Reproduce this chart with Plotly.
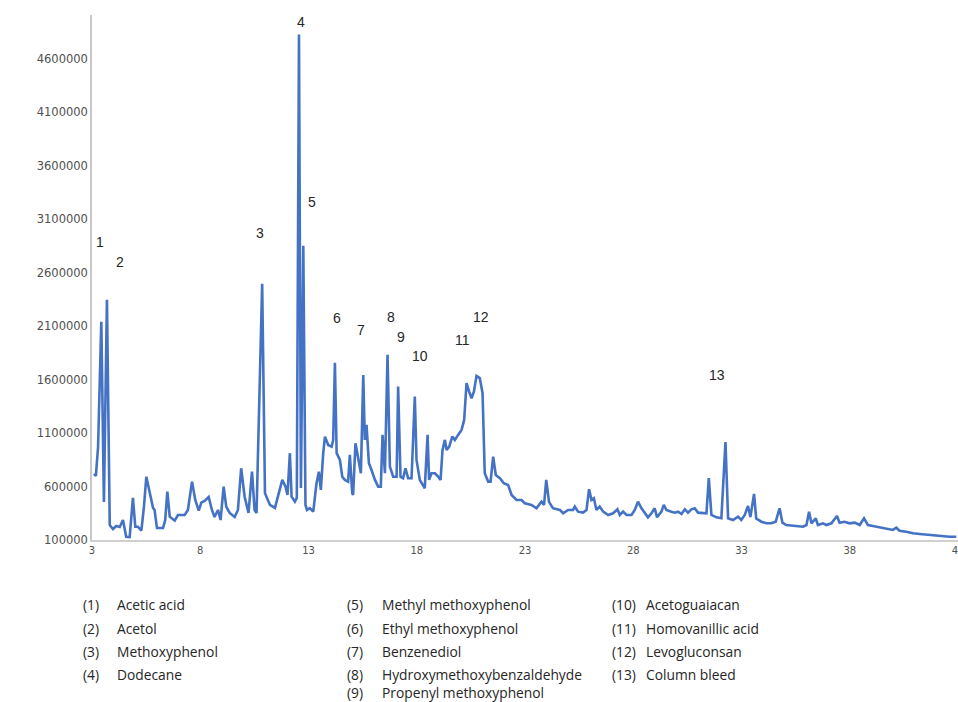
import plotly.graph_objects as go

# ---- data (retention time in min, detector abundance) ----
time_min = [3.09, 3.18, 3.28, 3.43, 3.55, 3.69, 3.82, 3.97, 4.12, 4.28, 4.43, 4.58, 4.74, 4.89, 5.00,
            5.12, 5.28, 5.40, 5.51, 5.66, 5.82, 5.89, 6.00, 6.28, 6.38, 6.48, 6.59, 6.82, 6.97, 7.28,
            7.43, 7.62, 7.77, 7.93, 8.05, 8.20, 8.39, 8.54, 8.66, 8.82, 8.94, 9.08, 9.20, 9.36, 9.59,
            9.74, 9.89, 10.05, 10.23, 10.39, 10.51, 10.60, 10.86, 10.99, 11.22, 11.45, 11.60, 11.79, 11.94, 12.03,
            12.14, 12.22, 12.37, 12.46, 12.56, 12.65, 12.76, 12.86, 12.93, 13.06, 13.22, 13.37, 13.48, 13.57, 13.68,
            13.76, 13.91, 14.07, 14.14, 14.22, 14.30, 14.45, 14.56, 14.68, 14.83, 14.91, 15.02, 15.06, 15.17, 15.29,
            15.42, 15.53, 15.60, 15.68, 15.79, 15.91, 16.07, 16.22, 16.34, 16.42, 16.53, 16.65, 16.76, 16.91, 17.07,
            17.14, 17.25, 17.37, 17.48, 17.60, 17.76, 17.91, 17.99, 18.14, 18.30, 18.37, 18.50, 18.57, 18.68, 18.84,
            18.99, 19.10, 19.19, 19.30, 19.38, 19.50, 19.64, 19.76, 19.91, 20.07, 20.19, 20.30, 20.42, 20.53, 20.64,
            20.76, 20.91, 21.04, 21.14, 21.30, 21.41, 21.53, 21.65, 21.84, 22.02, 22.22, 22.38, 22.61, 22.84, 22.99,
            23.30, 23.53, 23.76, 23.88, 23.98, 24.11, 24.29, 24.61, 24.76, 24.99, 25.22, 25.30, 25.45, 25.68, 25.84,
            25.96, 26.07, 26.18, 26.30, 26.45, 26.61, 26.84, 27.07, 27.27, 27.38, 27.53, 27.69, 27.92, 28.07, 28.22,
            28.38, 28.53, 28.68, 28.84, 28.99, 29.10, 29.30, 29.41, 29.53, 29.76, 29.92, 30.07, 30.23, 30.38, 30.53,
            30.69, 30.84, 30.99, 31.22, 31.38, 31.49, 31.61, 31.84, 32.07, 32.26, 32.38, 32.61, 32.84, 32.99, 33.15,
            33.30, 33.41, 33.58, 33.68, 33.92, 34.15, 34.38, 34.58, 34.76, 34.89, 35.07, 35.38, 35.84, 36.00, 36.12,
            36.23, 36.43, 36.53, 36.76, 36.92, 37.15, 37.41, 37.53, 37.76, 37.99, 38.23, 38.46, 38.66, 38.84, 39.07,
            39.38, 39.69, 39.99, 40.15, 40.30, 40.61, 40.92, 41.23, 41.69, 42.15, 42.61, 42.92]

abundance = [718000, 699000, 970000, 2140000, 456000, 2346000, 240000, 203000, 231000, 222000, 287000, 131000, 128000, 493000, 224000,
             224000, 187000, 412000, 692000, 540000, 400000, 381000, 212000, 212000, 287000, 552000, 318000, 281000, 334000, 334000,
             381000, 646000, 474000, 374000, 449000, 465000, 502000, 381000, 315000, 381000, 287000, 599000, 412000, 353000, 315000,
             381000, 771000, 505000, 353000, 739000, 381000, 353000, 2496000, 537000, 428000, 400000, 505000, 662000, 599000, 521000,
             912000, 505000, 458000, 493000, 4827000, 587000, 2852000, 428000, 381000, 397000, 365000, 631000, 739000, 568000, 912000,
             1067000, 989000, 973000, 1036000, 1757000, 912000, 849000, 692000, 662000, 646000, 896000, 537000, 521000, 1005000, 849000,
             724000, 1644000, 1036000, 1176000, 818000, 755000, 662000, 599000, 599000, 1083000, 724000, 1832000, 786000, 692000, 692000,
             1535000, 692000, 678000, 771000, 678000, 678000, 1441000, 849000, 662000, 615000, 584000, 1083000, 662000, 724000, 724000,
             692000, 662000, 942000, 1036000, 942000, 973000, 1067000, 1036000, 1083000, 1130000, 1223000, 1567000, 1488000, 1426000, 1488000,
             1635000, 1614000, 1473000, 724000, 646000, 646000, 880000, 708000, 678000, 631000, 615000, 521000, 474000, 474000, 444000,
             428000, 397000, 458000, 428000, 662000, 456000, 397000, 381000, 350000, 381000, 381000, 412000, 365000, 356000, 381000,
             575000, 474000, 490000, 381000, 412000, 365000, 334000, 350000, 387000, 334000, 365000, 334000, 334000, 381000, 458000,
             397000, 350000, 312000, 350000, 397000, 312000, 365000, 428000, 381000, 365000, 356000, 365000, 343000, 387000, 356000,
             387000, 397000, 356000, 350000, 350000, 678000, 334000, 312000, 303000, 1017000, 303000, 287000, 318000, 287000, 334000,
             418000, 315000, 531000, 301000, 271000, 256000, 256000, 271000, 397000, 262000, 240000, 231000, 224000, 240000, 365000,
             256000, 303000, 240000, 256000, 240000, 256000, 325000, 262000, 271000, 256000, 262000, 240000, 303000, 240000, 231000,
             219000, 200000, 194000, 215000, 187000, 178000, 163000, 156000, 147000, 137000, 131000, 131000]

peak_labels = ["1", "2", "3", "4", "5", "6", "7", "8", "9", "10", "11", "12", "13"]
peak_label_time = [3.37, 4.29, 10.76, 12.65, 13.16, 14.31, 15.42, 16.80, 17.26, 18.14, 20.13, 20.96, 31.88]
peak_label_value = [2889000, 2702000, 2974000, 4948000, 3264000, 2178000, 2066000, 2187000, 2000000, 1822000, 1972000, 2187000, 1644000]

x_ticks = [3, 8, 13, 18, 23, 28, 33, 38, 43]
y_ticks = [100000, 600000, 1100000, 1600000, 2100000, 2600000, 3100000, 3600000, 4100000, 4600000]

compound_codes = ["(1)", "(2)", "(3)", "(4)", "(5)", "(6)", "(7)", "(8)", "(9)", "(10)", "(11)", "(12)", "(13)"]
compound_names = ["Acetic acid", "Acetol", "Methoxyphenol", "Dodecane",
                  "Methyl methoxyphenol", "Ethyl methoxyphenol", "Benzenediol",
                  "Hydroxymethoxybenzaldehyde", "Propenyl methoxyphenol",
                  "Acetoguaiacan", "Homovanillic acid", "Levogluconsan", "Column bleed"]

# ---- figure ----
W, H = 958, 702
L, R, T, B = 92, 0, 15, 162
PW, PH = W - L - R, H - T - B

fig = go.Figure()
fig.add_trace(go.Scatter(x=time_min, y=abundance, mode="lines",
                         line=dict(color="#4472C4", width=2.6), hoverinfo="skip",
                         showlegend=False))

for lab, tx, ty in zip(peak_labels, peak_label_time, peak_label_value):
    fig.add_annotation(x=tx, y=ty, text=lab, showarrow=False, xref="x", yref="y",
                       font=dict(family="Liberation Sans, Arial", size=14, color="#262626"))

def px_x(px):
    return (px - L) / PW

def px_y(py):
    return (H - B - py) / PH

# column layout of the compound key (pixel positions)
col_code_x = [81, 345, 610]
col_name_x = [115, 380, 644]
row_y = [604, 628, 651, 674, 692]
layout_slots = [(0, 0), (0, 1), (0, 2), (0, 3),
                (1, 0), (1, 1), (1, 2), (1, 3), (1, 4),
                (2, 0), (2, 1), (2, 2), (2, 3)]
for code, name, (c, r) in zip(compound_codes, compound_names, layout_slots):
    fig.add_annotation(x=px_x(col_code_x[c]), y=px_y(row_y[r]), xref="paper", yref="paper",
                       text=code, showarrow=False, xanchor="left", yanchor="middle",
                       font=dict(family="Open Sans, Liberation Sans", size=13.8, color="#262626"))
    fig.add_annotation(x=px_x(col_name_x[c]), y=px_y(row_y[r]), xref="paper", yref="paper",
                       text=name, showarrow=False, xanchor="left", yanchor="middle",
                       font=dict(family="Open Sans, Liberation Sans", size=13.8, color="#262626"))

fig.update_layout(
    width=W, height=H,
    margin=dict(l=L, r=R, t=T, b=B, pad=0, autoexpand=False),
    paper_bgcolor="white", plot_bgcolor="white",
    xaxis=dict(range=[3, 43], tickvals=x_ticks, ticktext=[str(v) for v in x_ticks],
               showgrid=False, zeroline=False, showline=True, linecolor="#D0D0D0", linewidth=1.5,
               ticks="", ticklabeloverflow="allow", automargin=False,
               tickfont=dict(family="DejaVu Sans", size=10, color="#505050")),
    yaxis=dict(range=[100000, 5010000], tickvals=y_ticks, ticktext=[str(v) for v in y_ticks],
               showgrid=False, zeroline=False, showline=True, linecolor="#C8C8C8", linewidth=1.5,
               ticks="", ticklabelstandoff=0, automargin=False,
               tickfont=dict(family="DejaVu Sans", size=11.5, color="#505050")),
)

fig.write_html("out.html")
